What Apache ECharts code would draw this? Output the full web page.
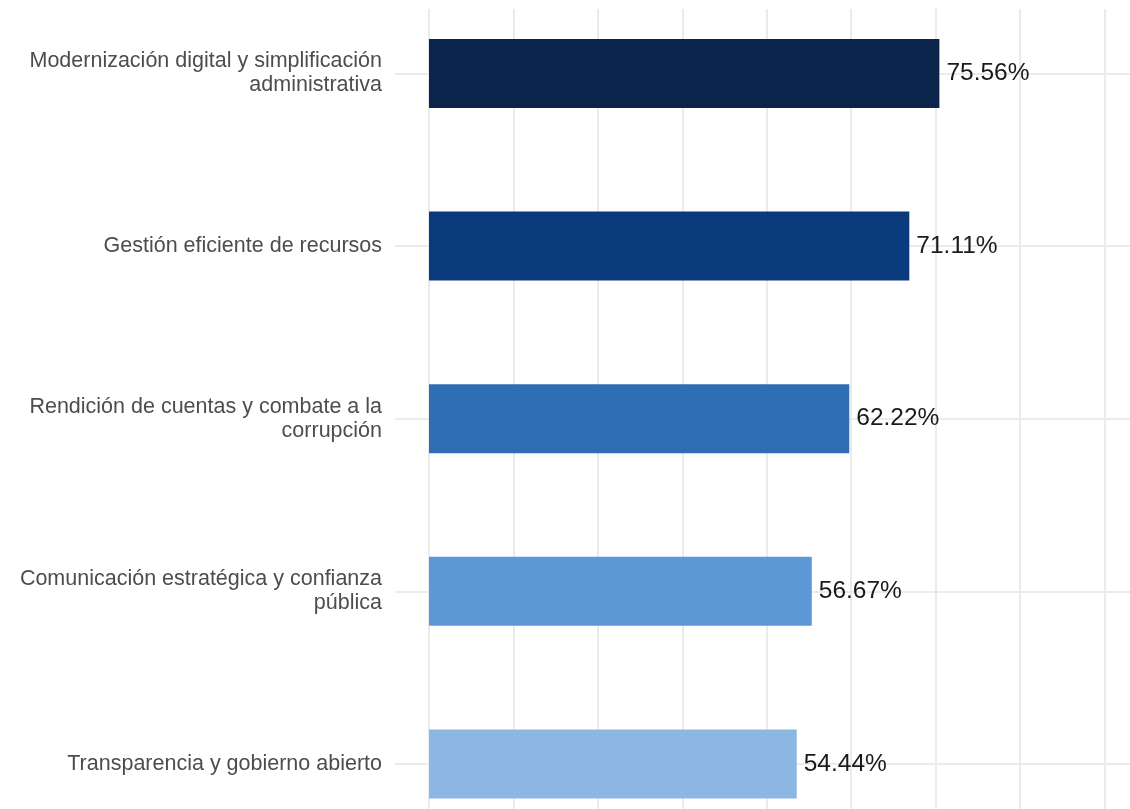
<!DOCTYPE html>
<html>
<head>
<meta charset="utf-8">
<script src="https://cdn.jsdelivr.net/npm/echarts@6/dist/echarts.min.js"></script>
<style>
  html, body { margin: 0; padding: 0; background: #fff; }
  #chart { width: 1130px; height: 809px; }
</style>
</head>
<body>
<div id="chart"></div>
<script>
// datos
const categories = [
  'Modernización digital y simplificación\nadministrativa',
  'Gestión eficiente de recursos',
  'Rendición de cuentas y combate a la\ncorrupción',
  'Comunicación estratégica y confianza\npública',
  'Transparencia y gobierno abierto'
]
const values = [75.56, 71.11, 62.22, 56.67, 54.44]
const barColors = ['#0b244b', '#0a3a7b', '#2f6eb5', '#5b98d5', '#8bb7e2']

const font = "'Liberation Sans', Arial, sans-serif"
const gridColor = '#ebebeb'

const chart = echarts.init(document.getElementById('chart'))

const option = {
  animation: false,
  grid: {
    left: 429,
    right: -15,
    top: -12.8,
    bottom: -41.2,
    outerBoundsMode: 'none'
  },
  // el panel empieza un poco mas abajo del borde superior
  graphic: [
    { type: 'rect', left: 0, top: 0, z: 100, silent: true,
      shape: { width: 1130, height: 9 }, style: { fill: '#fff' } }
  ],
  xAxis: {
    type: 'value',
    min: 0,
    max: 106,
    interval: 12.5,
    axisLabel: { show: false },
    axisLine: { show: false },
    axisTick: { show: false },
    splitLine: { lineStyle: { color: gridColor, width: 2 } }
  },
  yAxis: [
    {
      type: 'category',
      data: categories,
      inverse: true,
      axisLine: { show: false },
      axisTick: { show: true, alignWithLabel: true, length: 34, lineStyle: { color: gridColor, width: 2 } },
      axisLabel: {
        margin: 47,
        color: '#4d4d4d',
        fontSize: 21.5,
        lineHeight: 24,
        fontFamily: font,
        align: 'right'
      },
      splitLine: { show: false }
    },
    {
      // lineas horizontales en el centro de cada categoria
      type: 'category',
      data: categories,
      inverse: true,
      position: 'left',
      axisLine: { show: false },
      axisLabel: { show: false },
      axisTick: { show: true, inside: true, alignWithLabel: true, length: 760, lineStyle: { color: gridColor, width: 2 } },
      splitLine: { show: false }
    }
  ],
  series: [
    {
      type: 'bar',
      yAxisIndex: 0,
      barWidth: '40%',
      data: values.map((v, i) => ({ value: v, itemStyle: { color: barColors[i] } })),
      label: {
        show: true,
        position: 'right',
        distance: 7,
        color: '#1a1a1a',
        fontSize: 24.5,
        fontFamily: font,
        formatter: p => p.value.toFixed(2) + '%'
      }
    }
  ]
}

chart.setOption(option)
</script>
</body>
</html>
